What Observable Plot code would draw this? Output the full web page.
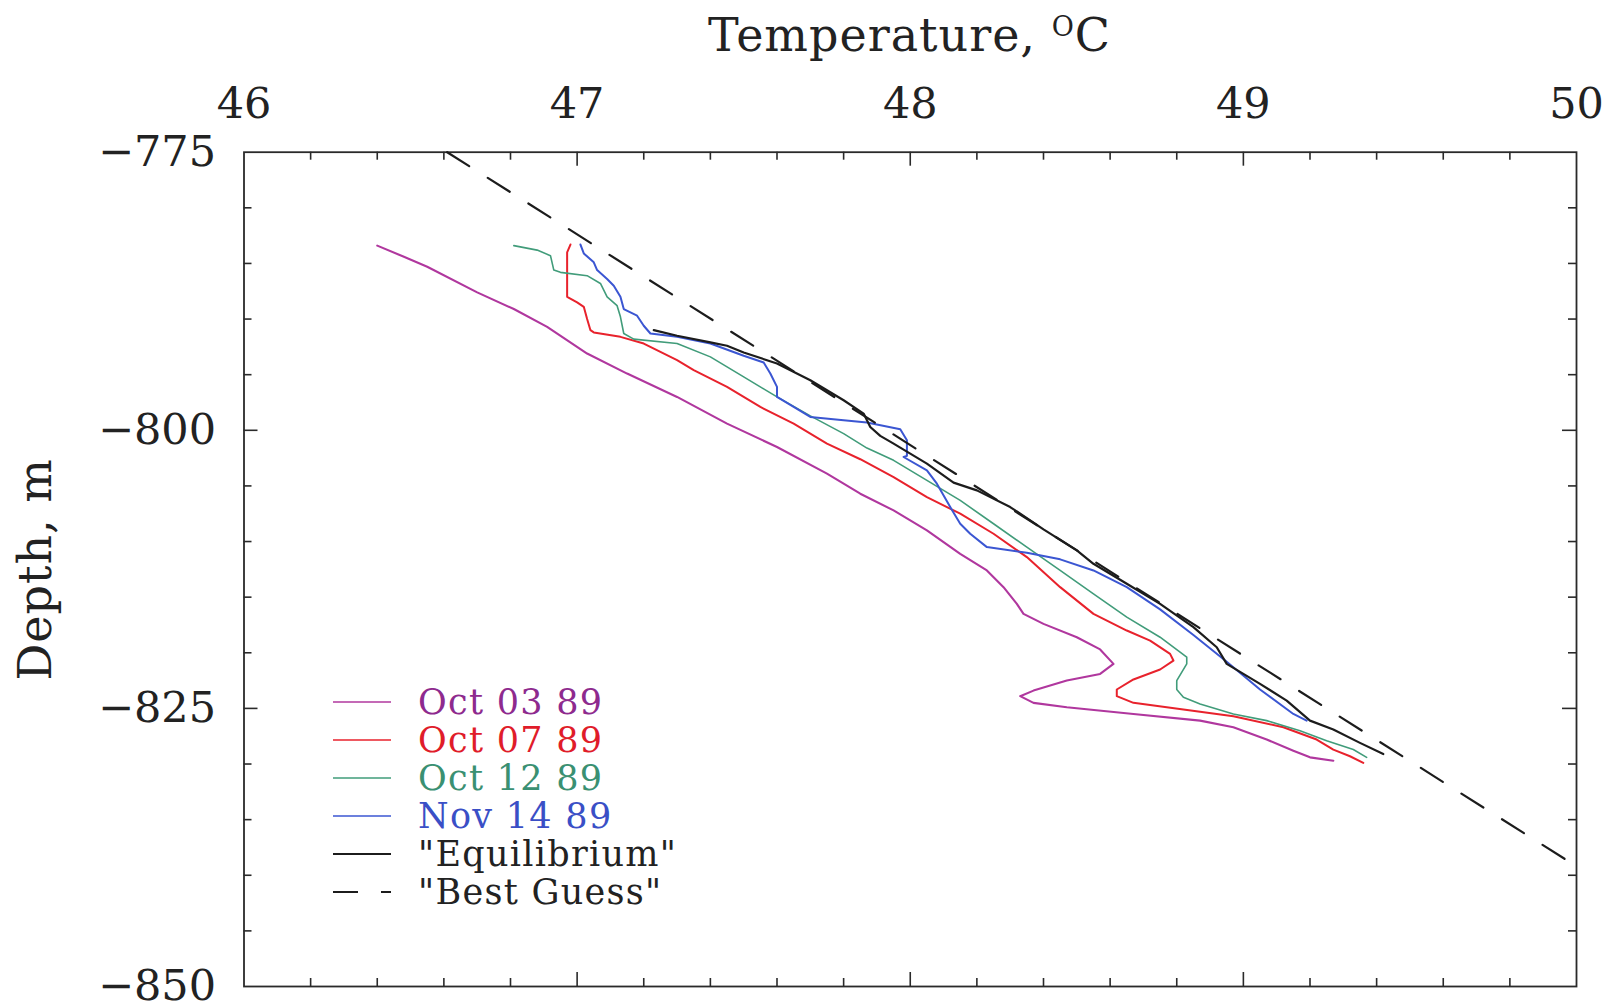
<!DOCTYPE html>
<html>
<head>
<meta charset="utf-8">
<script src="https://cdn.jsdelivr.net/npm/d3@7"></script>
<script src="https://cdn.jsdelivr.net/npm/@observablehq/plot@0.6"></script>
<style>
  body { margin: 0; background: #fff; }
  #wrap { position: relative; width: 1614px; height: 1008px; font-family: "DejaVu Serif", serif; color: #222; }
  #title { height: 70px; margin-left: 243px; width: 1333px; text-align: center; font-size: 46px; letter-spacing: 1px; line-height: 70px; }
  #title sup { font-size: 27px; position: relative; top: -3px; vertical-align: top; line-height: 60px; }
  #legend { position: absolute; left: 333px; top: 683px; }
  .row { display: flex; align-items: center; height: 38px; line-height: 38px; font-size: 35px; letter-spacing: 1.3px; }
  .row svg { margin-right: 27px; display: block; }
</style>
</head>
<body>
<div id="wrap">
  <div id="title">Temperature, <sup>O</sup>C</div>
  <div id="chart"></div>
  <div id="legend"></div>
</div>
<script>
// ---------- data ----------
const seriesNames = ["Oct 03 89", "Oct 07 89", "Oct 12 89", "Nov 14 89", "\"Equilibrium\"", "\"Best Guess\""];

const oct03T = [46.40, 46.48, 46.55, 46.70, 46.81, 46.91, 47.03, 47.15, 47.30, 47.45, 47.60, 47.75, 47.85, 47.95, 48.05, 48.15, 48.23, 48.28, 48.32, 48.34, 48.40, 48.50, 48.57, 48.61, 48.57, 48.47, 48.37, 48.33, 48.37, 48.47, 48.67, 48.87, 48.97, 49.07, 49.15, 49.20, 49.27];
const oct03D = [-783.4, -784.4, -785.3, -787.6, -789.1, -790.7, -793.1, -794.9, -797.0, -799.4, -801.5, -803.9, -805.7, -807.2, -809.0, -811.1, -812.6, -814.1, -815.6, -816.5, -817.4, -818.6, -819.7, -821.0, -821.9, -822.5, -823.4, -823.9, -824.5, -824.9, -825.5, -826.1, -826.7, -827.8, -828.8, -829.4, -829.7];

const oct07T = [46.98, 46.97, 46.97, 47.00, 47.02, 47.03, 47.04, 47.05, 47.13, 47.20, 47.30, 47.35, 47.45, 47.55, 47.65, 47.75, 47.85, 47.95, 48.05, 48.15, 48.25, 48.35, 48.45, 48.55, 48.65, 48.72, 48.78, 48.79, 48.75, 48.67, 48.62, 48.62, 48.67, 48.82, 48.97, 49.12, 49.22, 49.27, 49.32, 49.36];
const oct07D = [-783.3, -784.0, -788.0, -788.5, -788.9, -790.0, -791.0, -791.2, -791.6, -792.2, -793.7, -794.6, -796.1, -797.9, -799.4, -801.2, -802.6, -804.2, -806.0, -807.5, -809.3, -811.4, -814.1, -816.5, -818.0, -818.9, -820.1, -820.7, -821.5, -822.4, -823.3, -823.9, -824.5, -825.1, -825.7, -826.7, -827.8, -828.7, -829.3, -829.9];

const oct12T = [46.81, 46.88, 46.92, 46.93, 46.95, 47.03, 47.07, 47.09, 47.12, 47.13, 47.14, 47.17, 47.30, 47.40, 47.50, 47.60, 47.70, 47.80, 47.87, 47.95, 48.05, 48.15, 48.25, 48.35, 48.45, 48.55, 48.65, 48.75, 48.83, 48.83, 48.80, 48.80, 48.82, 48.87, 48.97, 49.07, 49.17, 49.25, 49.33, 49.37];
const oct12D = [-783.4, -783.8, -784.3, -785.6, -785.8, -786.1, -786.8, -788.0, -788.8, -789.8, -791.3, -791.8, -792.2, -793.4, -795.2, -797.0, -798.7, -800.3, -801.6, -802.7, -804.5, -806.3, -808.4, -810.5, -812.6, -814.7, -816.8, -818.6, -820.4, -821.0, -822.5, -823.3, -824.0, -824.6, -825.5, -826.1, -827.0, -827.9, -828.7, -829.4];

const nov14T = [47.01, 47.02, 47.05, 47.06, 47.09, 47.11, 47.13, 47.14, 47.18, 47.20, 47.22, 47.30, 47.40, 47.50, 47.56, 47.58, 47.60, 47.60, 47.65, 47.70, 47.80, 47.87, 47.97, 47.99, 47.99, 47.98, 48.05, 48.08, 48.12, 48.15, 48.18, 48.23, 48.35, 48.45, 48.55, 48.65, 48.75, 48.85, 48.95, 49.05, 49.15, 49.19];
const nov14D = [-783.3, -784.1, -784.9, -785.6, -786.4, -787.0, -788.0, -789.1, -789.7, -790.6, -791.3, -791.6, -792.2, -793.3, -793.9, -794.9, -796.1, -797.0, -797.9, -798.8, -799.1, -799.3, -799.9, -800.9, -802.3, -802.4, -803.6, -804.8, -806.9, -808.4, -809.3, -810.5, -811.0, -811.6, -812.6, -814.1, -816.1, -818.4, -820.8, -823.3, -825.5, -826.1];

const equilT = [47.23, 47.30, 47.40, 47.45, 47.50, 47.60, 47.70, 47.80, 47.86, 47.88, 47.91, 47.95, 48.05, 48.13, 48.20, 48.30, 48.40, 48.50, 48.55, 48.65, 48.75, 48.85, 48.92, 48.95, 49.05, 49.13, 49.20, 49.27, 49.35, 49.42];
const equilD = [-791.0, -791.5, -792.1, -792.4, -793.0, -794.0, -795.5, -797.3, -798.5, -799.7, -800.5, -801.2, -803.0, -804.7, -805.4, -806.9, -808.9, -810.8, -812.0, -813.8, -815.6, -817.7, -819.5, -821.0, -822.8, -824.3, -826.1, -826.9, -828.1, -829.1];

const guessT = [46.61, 50.0];
const guessD = [-775.0, -839.2];

// axis ticks
const xTickLabels = [46, 47, 48, 49, 50];
const xMajorInner = [47, 48, 49];
const xMinorTicks = [46.2, 46.4, 46.6, 46.8, 47.2, 47.4, 47.6, 47.8, 48.2, 48.4, 48.6, 48.8, 49.2, 49.4, 49.6, 49.8];
const yTickLabels = [-775, -800, -825, -850];
const yMajorInner = [-800, -825];
const yMinorTicks = [-780, -785, -790, -795, -805, -810, -815, -820, -830, -835, -840, -845];

// ---------- styling ----------
const colors = ["#b0379e", "#e8222c", "#419c7a", "#3b56d2", "#1c1c1c", "#1c1c1c"];
const textColors = ["#8e2a8e", "#e01c2a", "#3a9072", "#3a4fc6", "#222", "#222"];
const widths = [2.1, 2, 1.6, 2, 2.2, 2.2];
const dash = "26,22";

const toRows = (T, D) => T.map((t, i) => ({T: t, D: D[i]}));
const series = [
  toRows(oct03T, oct03D), toRows(oct07T, oct07D), toRows(oct12T, oct12D),
  toRows(nov14T, nov14D), toRows(equilT, equilD), toRows(guessT, guessD)
];

const W = 1614, H = 938, mT = 81.7, mB = 22, mL = 243.5, mR = 38;
const frameH = H - mT - mB, frameW = W - mL - mR;
const minorLen = 8, majorLen = 14;
const tickStroke = {stroke: "#2a2a2a", strokeWidth: 1.6};
const fmt = d => (d < 0 ? "\u2212" : "") + Math.abs(d);

const chart = Plot.plot({
  width: W, height: H,
  marginTop: mT, marginBottom: mB, marginLeft: mL, marginRight: mR,
  style: {fontFamily: "DejaVu Serif, serif", color: "#222", background: "white", overflow: "visible"},
  x: {domain: [46, 50]},
  y: {domain: [-850, -775]},
  marks: [
    Plot.axisX(xTickLabels, {anchor: "top", tickSize: 0, tickPadding: 34, fontSize: 43, tickFormat: fmt, label: null}),
    Plot.axisY(yTickLabels, {anchor: "left", tickSize: 0, tickPadding: 28, fontSize: 43, tickFormat: fmt, label: null}),
    // inward ticks on all four sides
    Plot.ruleX(xMinorTicks, {...tickStroke, insetBottom: frameH - minorLen}),
    Plot.ruleX(xMinorTicks, {...tickStroke, insetTop: frameH - minorLen}),
    Plot.ruleX(xMajorInner, {...tickStroke, insetBottom: frameH - majorLen}),
    Plot.ruleX(xMajorInner, {...tickStroke, insetTop: frameH - majorLen}),
    Plot.ruleY(yMinorTicks, {...tickStroke, insetRight: frameW - minorLen}),
    Plot.ruleY(yMinorTicks, {...tickStroke, insetLeft: frameW - minorLen}),
    Plot.ruleY(yMajorInner, {...tickStroke, insetRight: frameW - majorLen}),
    Plot.ruleY(yMajorInner, {...tickStroke, insetLeft: frameW - majorLen}),
    Plot.frame({stroke: "#2a2a2a", strokeWidth: 1.8}),
    ...series.map((rows, i) => Plot.line(rows, {
      x: "T", y: "D", stroke: colors[i], strokeWidth: widths[i],
      strokeDasharray: i === 5 ? dash : null
    })),
    Plot.text(["Depth, m"], {frameAnchor: "left", text: d => d, rotate: -90, textAnchor: "middle", dx: -207.5, fontSize: 46, fill: "#222", style: "letter-spacing:1px"})
  ]
});
document.getElementById("chart").appendChild(chart);
chart.querySelectorAll("text").forEach(t => { if (t.textContent === "Depth, m") t.setAttribute("letter-spacing", "1"); });

// ---------- legend ----------
const legend = d3.select("#legend");
seriesNames.forEach((name, i) => {
  const row = legend.append("div").attr("class", "row").style("color", textColors[i]);
  const sw = row.append("svg").attr("width", 58).attr("height", 38);
  sw.append("line").attr("x1", 0).attr("x2", 58).attr("y1", 19).attr("y2", 19)
    .attr("stroke", colors[i]).attr("stroke-width", widths[i] * 0.8)
    .attr("stroke-dasharray", i === 5 ? "25,23" : null);
  row.append("span").text(name);
});
</script>
</body>
</html>
